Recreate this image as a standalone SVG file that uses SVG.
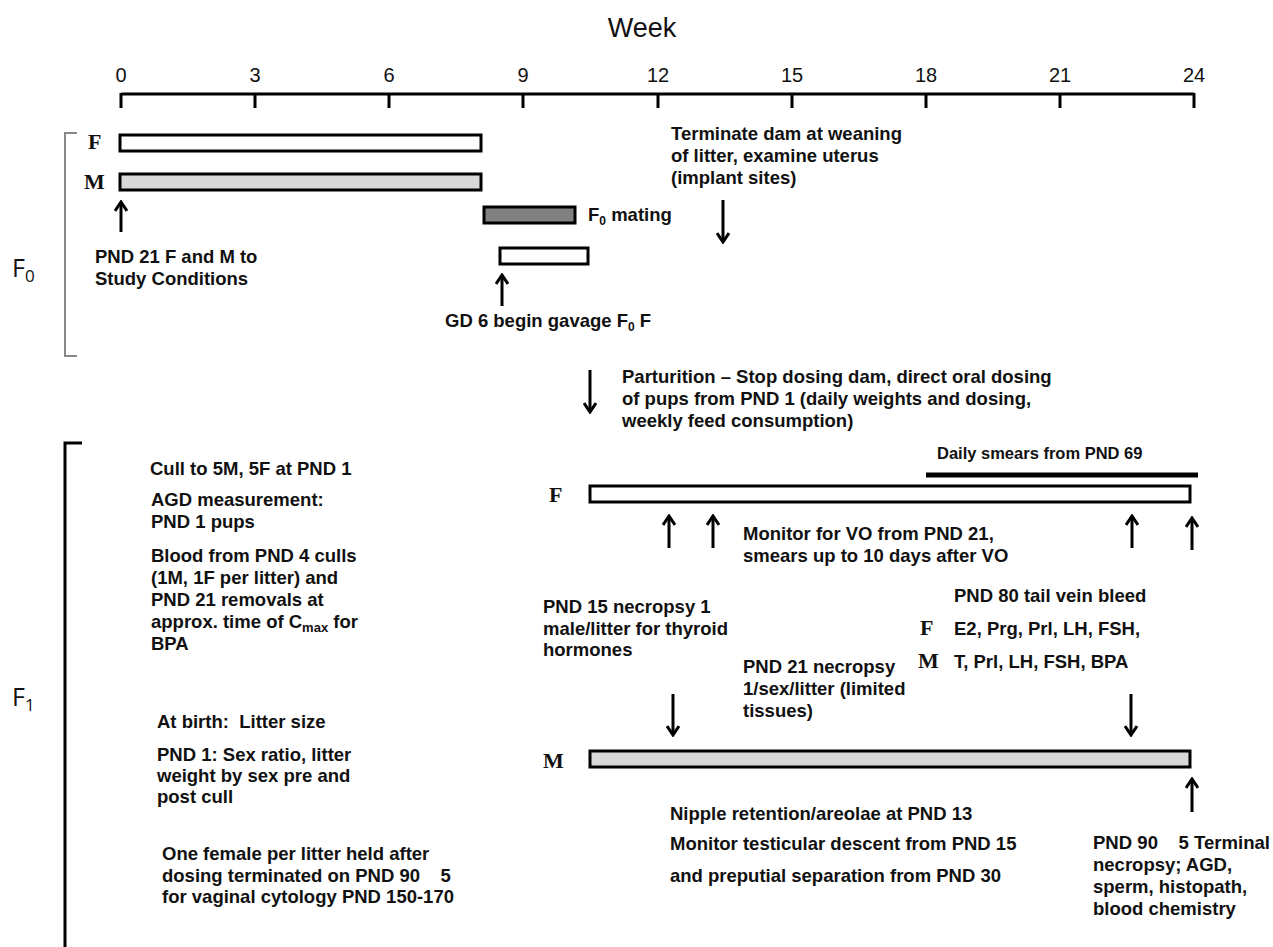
<svg xmlns="http://www.w3.org/2000/svg" width="1273" height="947" viewBox="0 0 1273 947">
<style>
text{font-family:"Liberation Sans",Arial,sans-serif;fill:#111}
.ax{font-size:20px}
.wk{font-size:27px}
.b{font-size:18.5px;font-weight:bold}
.s{font-family:"Liberation Serif","Times New Roman",serif;font-size:22px;font-weight:bold}
.gen{font-family:"Open Sans","Liberation Sans",sans-serif;font-size:25px}
.bar{stroke:#000;stroke-width:3}
.wh{fill:#fff}.lg{fill:#d9d9d9}.dg{fill:#808080}
.arr{stroke:#000;stroke-width:3;fill:none;marker-end:url(#ah)}
</style>
<defs>
<marker id="ah" viewBox="0 0 12 14" refX="10" refY="7" markerWidth="12" markerHeight="14" markerUnits="userSpaceOnUse" orient="auto">
<path d="M1,1 L10,7 L1,13" fill="none" stroke="#000" stroke-width="3"/>
</marker>
</defs>

<g id="axis">
<text class="wk" x="642" y="37" text-anchor="middle">Week</text>
<path d="M121,94 H1194 M121,93 V108 M255,94 V108 M389,94 V108 M523,94 V108 M658,94 V108 M792,94 V108 M926,94 V108 M1060,94 V108 M1194,93 V108" stroke="#000" stroke-width="3" fill="none"/>
<g class="ax" text-anchor="middle">
<text x="121" y="82">0</text><text x="255" y="82">3</text><text x="389" y="82">6</text><text x="523" y="82">9</text><text x="658" y="82">12</text><text x="792" y="82">15</text><text x="926" y="82">18</text><text x="1060" y="82">21</text><text x="1194" y="82">24</text>
</g>
</g>

<g id="f0-bracket">
<path d="M77,133 H65 V356 H77" stroke="#888" stroke-width="2" fill="none"/>
<text class="gen" x="12" y="277">F<tspan font-size="17" dy="5">0</tspan></text>
</g>

<g id="f0-female">
<text class="s" x="88" y="149">F</text>
<rect class="bar wh" x="120" y="135" width="361" height="16"/>
</g>
<g id="f0-male">
<text class="s" x="84" y="189">M</text>
<rect class="bar lg" x="120" y="174" width="361" height="16"/>
</g>
<g id="f0-study">
<text class="b" x="95" y="263">PND 21 F and M to</text>
<text class="b" x="95" y="285">Study Conditions</text>
</g>
<g id="f0-mating">
<rect class="bar dg" x="484" y="207" width="91" height="16"/>
<text class="b" x="588" y="221">F<tspan font-size="12" dy="4">0</tspan><tspan dy="-4"> mating</tspan></text>
</g>
<g id="f0-gavage">
<rect class="bar wh" x="500" y="248" width="88" height="16"/>
<text class="b" x="445" y="327">GD 6 begin gavage F<tspan font-size="12" dy="4">0</tspan><tspan dy="-4"> F</tspan></text>
</g>
<g id="f0-terminate">
<text class="b" x="671" y="140">Terminate dam at weaning</text>
<text class="b" x="671" y="162">of litter, examine uterus</text>
<text class="b" x="671" y="184">(implant sites)</text>
</g>
<g id="parturition">
<text class="b" x="622" y="383">Parturition – Stop dosing dam, direct oral dosing</text>
<text class="b" x="622" y="405">of pups from PND 1 (daily weights and dosing,</text>
<text class="b" x="622" y="427">weekly feed consumption)</text>
</g>

<g id="f1-bracket">
<path d="M82,443 H65 V947" stroke="#000" stroke-width="3" fill="none"/>
<text class="gen" x="12" y="706">F<tspan font-size="17" dy="5">1</tspan></text>
</g>

<g id="f1-left-top">
<text class="b" x="150" y="475">Cull to 5M, 5F at PND 1</text>
<text class="b" x="151" y="506">AGD measurement:</text>
<text class="b" x="151" y="528">PND 1 pups</text>
<text class="b" x="151" y="562">Blood from PND 4 culls</text>
<text class="b" x="151" y="584">(1M, 1F per litter) and</text>
<text class="b" x="151" y="606">PND 21 removals at</text>
<text class="b" x="151" y="628">approx. time of C<tspan font-size="13" dy="4">max</tspan><tspan dy="-4"> for</tspan></text>
<text class="b" x="151" y="650">BPA</text>
</g>
<g id="f1-left-birth">
<text class="b" x="157" y="728" xml:space="preserve">At birth:  Litter size</text>
<text class="b" x="157" y="761">PND 1: Sex ratio, litter</text>
<text class="b" x="157" y="782">weight by sex pre and</text>
<text class="b" x="157" y="803">post cull</text>
</g>
<g id="f1-left-female">
<text class="b" x="162" y="860">One female per litter held after</text>
<text class="b" x="162" y="882">dosing terminated on PND 90&#160;&#160;&#160;&#160;5</text>
<text class="b" x="162" y="903">for vaginal cytology PND 150-170</text>
</g>

<g id="f1-smears">
<text class="b" x="937" y="459" style="font-size:16.5px">Daily smears from PND 69</text>
<line x1="926" y1="475" x2="1198" y2="475" stroke="#000" stroke-width="5"/>
</g>
<g id="f1-female">
<text class="s" x="549" y="502">F</text>
<rect class="bar wh" x="590" y="486" width="600" height="16"/>
</g>
<g id="f1-vo">
<text class="b" x="743" y="540">Monitor for VO from PND 21,</text>
<text class="b" x="743" y="562">smears up to 10 days after VO</text>
</g>
<g id="f1-bleed">
<text class="b" x="954" y="602">PND 80 tail vein bleed</text>
<text class="s" x="920" y="635">F</text>
<text class="b" x="954" y="635">E2, Prg, Prl, LH, FSH,</text>
<text class="s" x="918" y="668">M</text>
<text class="b" x="954" y="668">T, Prl, LH, FSH, BPA</text>
</g>
<g id="f1-pnd15">
<text class="b" x="543" y="613">PND 15 necropsy 1</text>
<text class="b" x="543" y="635">male/litter for thyroid</text>
<text class="b" x="543" y="656">hormones</text>
</g>
<g id="f1-pnd21">
<text class="b" x="743" y="673">PND 21 necropsy</text>
<text class="b" x="743" y="695">1/sex/litter (limited</text>
<text class="b" x="743" y="717">tissues)</text>
</g>
<g id="f1-male">
<text class="s" x="543" y="768">M</text>
<rect class="bar lg" x="590" y="751" width="600" height="16"/>
</g>
<g id="f1-male-dev">
<text class="b" x="670" y="820">Nipple retention/areolae at PND 13</text>
<text class="b" x="670" y="850">Monitor testicular descent from PND 15</text>
<text class="b" x="670" y="882">and preputial separation from PND 30</text>
</g>
<g id="f1-terminal">
<text class="b" x="1093" y="849" textLength="177" lengthAdjust="spacingAndGlyphs">PND 90&#160;&#160;&#160;&#160;5 Terminal</text>
<text class="b" x="1093" y="871">necropsy; AGD,</text>
<text class="b" x="1093" y="893">sperm, histopath,</text>
<text class="b" x="1093" y="915">blood chemistry</text>
</g>

<g id="connectors">
<line class="arr" x1="121" y1="232" x2="121" y2="202"/>
<line class="arr" x1="502" y1="306" x2="502" y2="275"/>
<line class="arr" x1="723" y1="200" x2="723" y2="242"/>
<line class="arr" x1="590" y1="370" x2="590" y2="412"/>
<line class="arr" x1="669" y1="548" x2="669" y2="516"/>
<line class="arr" x1="713" y1="548" x2="713" y2="516"/>
<line class="arr" x1="1132" y1="548" x2="1132" y2="516"/>
<line class="arr" x1="1192" y1="550" x2="1192" y2="518"/>
<line class="arr" x1="673" y1="694" x2="673" y2="735"/>
<line class="arr" x1="1131" y1="694" x2="1131" y2="735"/>
<line class="arr" x1="1192" y1="812" x2="1192" y2="779"/>
</g>
</svg>
